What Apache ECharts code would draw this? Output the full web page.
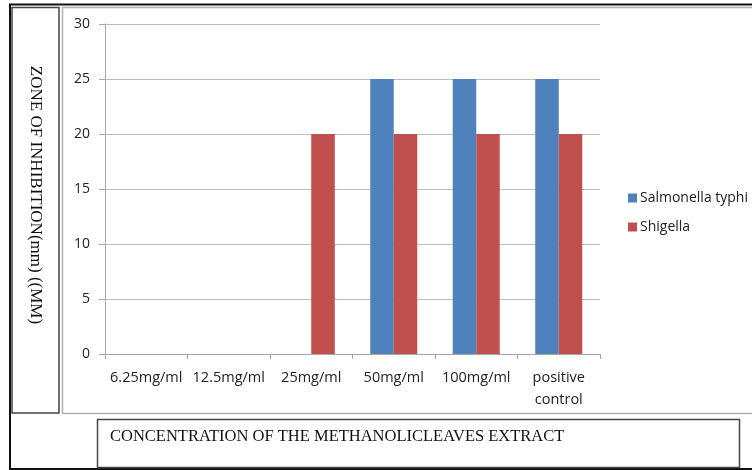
<!DOCTYPE html>
<html>
<head>
<meta charset="utf-8">
<script src="https://cdn.jsdelivr.net/npm/echarts@6/dist/echarts.min.js"></script>
<style>
  html, body { margin: 0; padding: 0; background: #fff; }
  #chart { width: 752px; height: 470px; }
</style>
</head>
<body>
<div id="chart"></div>
<script>
// Concentrations tested
const categories = ['6.25mg/ml', '12.5mg/ml', '25mg/ml', '50mg/ml', '100mg/ml', 'positive\ncontrol'];
// Zone of inhibition (mm) per organism
const salmonellaTyphi = [0, 0, 0, 25, 25, 25];
const shigella = [0, 0, 20, 20, 20, 20];
const seriesNames = ['Salmonella typhi', 'Shigella'];
const yTitle = 'ZONE OF INHIBITION(mm) ((MM)';
const xTitle = 'CONCENTRATION OF THE METHANOLICLEAVES EXTRACT';

const chart = echarts.init(document.getElementById('chart'), null, { renderer: 'canvas' });
const sans = '"Open Sans", "Liberation Sans", sans-serif';
const serif = '"Liberation Serif", "DejaVu Serif", serif';

chart.setOption({
  animation: false,
  backgroundColor: '#ffffff',
  grid: { left: 105, right: 152, top: 24, bottom: 116, containLabel: false },
  legend: {
    orient: 'vertical',
    left: 623,
    top: 186,
    itemWidth: 9,
    itemHeight: 9,
    itemGap: 15,
    icon: 'rect',
    textStyle: { fontFamily: sans, fontSize: 14, color: '#222', padding: [0, 0, 0, -2] },
    data: seriesNames
  },
  xAxis: {
    type: 'category',
    data: categories,
    axisLine: { lineStyle: { color: '#a6a6a6', width: 1 } },
    axisTick: { show: true, length: 5, lineStyle: { color: '#a6a6a6' } },
    axisLabel: { fontFamily: sans, fontSize: 14.5, color: '#222', margin: 13, lineHeight: 22, interval: 0 }
  },
  yAxis: {
    type: 'value',
    min: 0,
    max: 30,
    interval: 5,
    axisLine: { show: true, lineStyle: { color: '#a6a6a6' } },
    axisTick: { show: true, length: 6, lineStyle: { color: '#a6a6a6' } },
    axisLabel: { fontFamily: sans, fontSize: 14, color: '#222', margin: 15 },
    splitLine: { lineStyle: { color: '#bdbdbd', width: 1 } }
  },
  series: [
    {
      name: seriesNames[0],
      type: 'bar',
      data: salmonellaTyphi,
      itemStyle: { color: '#4f81bd' },
      barGap: '0%',
      barCategoryGap: '43%'
    },
    {
      name: seriesNames[1],
      type: 'bar',
      data: shigella,
      itemStyle: { color: '#c0504d' },
      barGap: '0%',
      barCategoryGap: '43%'
    }
  ],
  graphic: [
    // outer frame
    { type: 'rect', shape: { x: 10, y: 4.5, width: 760, height: 464.5 }, style: { fill: null, stroke: '#111', lineWidth: 2 }, silent: true },
    // chart area frame
    { type: 'rect', shape: { x: 62.5, y: 7.5, width: 700, height: 406 }, style: { fill: null, stroke: '#b0b0b0', lineWidth: 1.5 }, silent: true },
    // y title frame
    { type: 'rect', shape: { x: 12, y: 7.5, width: 47, height: 405.5 }, style: { fill: null, stroke: '#444', lineWidth: 1.5 }, silent: true },
    // x title frame
    { type: 'rect', shape: { x: 97.5, y: 419.5, width: 642, height: 48 }, style: { fill: null, stroke: '#444', lineWidth: 1.5 }, silent: true },
    {
      type: 'text',
      x: 35.5, y: 195,
      rotation: -Math.PI / 2,
      style: { text: yTitle, fontFamily: serif, fontSize: 17, fill: '#111', align: 'center', verticalAlign: 'middle' },
      silent: true
    },
    {
      type: 'text',
      x: 110, y: 437,
      style: { text: xTitle, fontFamily: serif, fontSize: 16.5, fill: '#111', align: 'left', verticalAlign: 'middle' },
      silent: true
    }
  ]
});
</script>
</body>
</html>
